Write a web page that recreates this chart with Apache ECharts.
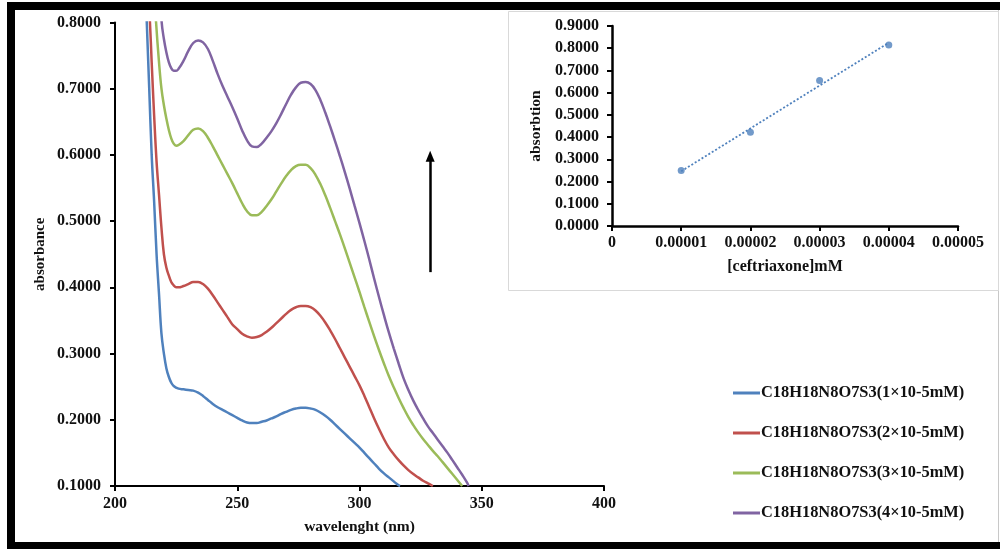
<!DOCTYPE html>
<html>
<head>
<meta charset="utf-8">
<script src="https://cdn.jsdelivr.net/npm/echarts@6/dist/echarts.min.js"></script>
<style>
  html, body { margin: 0; padding: 0; background: #fff; }
  #chart { width: 1000px; height: 549px; }
</style>
</head>
<body>
<div id="chart"></div>
<script>
// UV-Vis spectra of ceftriaxone at four concentrations: [wavelength nm, absorbance]
const seriesNames = [
  'C18H18N8O7S3(1×10-5mM)',
  'C18H18N8O7S3(2×10-5mM)',
  'C18H18N8O7S3(3×10-5mM)',
  'C18H18N8O7S3(4×10-5mM)'
];
const seriesColors = ['#4F81BD', '#C0504D', '#9BBB59', '#8064A2'];

const spectrum1 = [[212.5,0.85],[213,0.80],[214,0.70],[215,0.60],[216,0.53],[217,0.45],[218,0.39],[219,0.33],[220,0.30],[221,0.278],[222,0.265],[223,0.256],[224,0.251],[226,0.247],[228,0.246],[230,0.245],[232,0.244],[234,0.241],[236,0.236],[238,0.230],[240,0.224],[242,0.219],[244,0.215],[246,0.211],[248,0.207],[250,0.203],[252,0.199],[254,0.196],[256,0.195],[258,0.195],[260,0.197],[262,0.199],[264,0.202],[266,0.205],[268,0.209],[270,0.212],[272,0.215],[274,0.217],[276,0.218],[278,0.218],[280,0.217],[282,0.215],[284,0.211],[286,0.206],[288,0.200],[290,0.193],[292,0.186],[294,0.179],[296,0.172],[298,0.165],[300,0.158],[302,0.150],[304,0.142],[306,0.134],[308,0.126],[310,0.119],[312,0.113],[314,0.107],[316,0.101],[316.6,0.100]];

const spectrum2 = [[213.5,0.85],[214.3,0.80],[215,0.74],[216,0.66],[217,0.59],[218,0.54],[219,0.49],[220,0.45],[221,0.43],[222,0.418],[223,0.408],[224,0.403],[225,0.400],[226,0.400],[228,0.402],[230,0.405],[232,0.408],[234,0.408],[236,0.405],[238,0.398],[240,0.388],[242,0.377],[244,0.366],[246,0.355],[248,0.344],[250,0.337],[252,0.330],[254,0.326],[256,0.324],[258,0.325],[260,0.328],[262,0.333],[264,0.339],[266,0.346],[268,0.353],[270,0.360],[272,0.366],[274,0.370],[276,0.372],[278,0.372],[280,0.370],[282,0.365],[284,0.357],[286,0.347],[288,0.335],[290,0.322],[292,0.308],[294,0.294],[296,0.280],[298,0.266],[300,0.252],[302,0.236],[304,0.219],[306,0.202],[308,0.186],[310,0.171],[312,0.158],[314,0.148],[316,0.139],[318,0.131],[320,0.124],[322,0.118],[324,0.113],[326,0.108],[328,0.104],[330,0.100]];

const spectrum3 = [[216,0.85],[216.8,0.80],[218,0.74],[219,0.70],[220,0.675],[221,0.655],[222,0.638],[223,0.625],[224,0.617],[225,0.614],[226,0.615],[228,0.621],[230,0.630],[232,0.638],[234,0.640],[236,0.636],[238,0.626],[240,0.613],[242,0.599],[244,0.585],[246,0.571],[248,0.557],[250,0.542],[252,0.527],[254,0.515],[256,0.509],[258,0.509],[260,0.514],[262,0.523],[264,0.533],[266,0.545],[268,0.557],[270,0.568],[272,0.577],[274,0.583],[276,0.585],[278,0.585],[280,0.580],[282,0.570],[284,0.556],[286,0.539],[288,0.520],[290,0.500],[292,0.480],[294,0.459],[296,0.437],[298,0.415],[300,0.393],[302,0.370],[304,0.348],[306,0.326],[308,0.305],[310,0.285],[312,0.266],[314,0.249],[316,0.233],[318,0.218],[320,0.204],[322,0.192],[324,0.181],[326,0.171],[328,0.162],[330,0.153],[332,0.145],[334,0.136],[336,0.127],[338,0.118],[340,0.109],[342,0.100]];

const spectrum4 = [[218.5,0.85],[219.1,0.80],[220,0.775],[221,0.755],[222,0.740],[223,0.731],[224,0.727],[225,0.727],[226,0.730],[228,0.742],[230,0.757],[232,0.769],[234,0.773],[236,0.770],[238,0.760],[240,0.742],[242,0.722],[244,0.704],[246,0.688],[248,0.672],[250,0.655],[252,0.637],[254,0.622],[256,0.613],[258,0.612],[260,0.617],[262,0.626],[264,0.636],[266,0.648],[268,0.662],[270,0.677],[272,0.691],[274,0.702],[276,0.709],[278,0.710],[280,0.707],[282,0.698],[284,0.683],[286,0.664],[288,0.643],[290,0.621],[292,0.598],[294,0.574],[296,0.549],[298,0.523],[300,0.497],[302,0.470],[304,0.442],[306,0.413],[308,0.385],[310,0.358],[312,0.332],[314,0.308],[316,0.285],[318,0.263],[320,0.245],[322,0.229],[324,0.215],[326,0.202],[328,0.190],[330,0.180],[332,0.170],[334,0.160],[336,0.150],[338,0.139],[340,0.128],[342,0.117],[344,0.105],[344.6,0.100]];

const spectra = [spectrum1, spectrum2, spectrum3, spectrum4];

// Calibration (inset): concentration vs absorption at the main peak
const concentrations = [0.00001, 0.00002, 0.00003, 0.00004];
const absorptions = [0.250, 0.422, 0.655, 0.815];

// Least-squares linear trend through the calibration points
function linearFit(xs, ys) {
  const n = xs.length;
  const mx = xs.reduce((a, b) => a + b, 0) / n;
  const my = ys.reduce((a, b) => a + b, 0) / n;
  let sxy = 0, sxx = 0;
  for (let i = 0; i < n; i++) { sxy += (xs[i] - mx) * (ys[i] - my); sxx += (xs[i] - mx) ** 2; }
  const slope = sxy / sxx;
  return x => my + slope * (x - mx);
}
const trend = linearFit(concentrations, absorptions);
const xFirst = concentrations[0], xLast = concentrations[concentrations.length - 1];
const trendLine = [[xFirst, trend(xFirst)], [xLast, trend(xLast)]];

const FONT = '"Liberation Serif", "Times New Roman", serif';
const txt = { fontFamily: FONT, fontWeight: 'bold', fontSize: 16, color: '#111' };

const chart = echarts.init(document.getElementById('chart'), null, { renderer: 'canvas' });

const lineSeries = spectra.map((d, i) => ({
  name: seriesNames[i],
  type: 'line',
  xAxisIndex: 0,
  yAxisIndex: 0,
  data: d,
  showSymbol: false,
  smooth: 0.4,
  clip: true,
  lineStyle: { color: seriesColors[i], width: 2.5 },
  itemStyle: { color: seriesColors[i] },
  z: 3
}));

// Upward arrow marking increasing concentration
lineSeries[0].markLine = {
  silent: true,
  symbol: ['none', 'triangle'],
  symbolSize: [9, 11],
  label: { show: false },
  lineStyle: { color: '#000', width: 2.5, type: 'solid' },
  data: [[{ coord: [328.9, 0.423] }, { coord: [328.9, 0.598] }]]
};

chart.setOption({
  backgroundColor: '#fff',
  animation: false,
  graphic: [
    // outer frame
    { type: 'rect', z: -20, shape: { x: 7, y: 2, width: 993, height: 8 }, style: { fill: '#000' } },
    { type: 'rect', z: -20, shape: { x: 7, y: 2, width: 8, height: 547 }, style: { fill: '#000' } },
    { type: 'rect', z: -20, shape: { x: 7, y: 542, width: 993, height: 7 }, style: { fill: '#000' } },
    { type: 'rect', z: -20, shape: { x: 998, y: 10, width: 1, height: 532 }, style: { fill: '#c8c8c8' } },
    // inset panel
    { type: 'rect', z: -10, shape: { x: 508.5, y: 11.5, width: 490, height: 279 }, style: { fill: '#fff', stroke: '#d9d9d9', lineWidth: 1 } }
  ],
  legend: {
    data: seriesNames,
    orient: 'vertical',
    left: 728,
    top: 380,
    itemWidth: 27,
    itemHeight: 3,
    itemGap: 24,
    icon: 'rect',
    textStyle: Object.assign({}, txt, { fontSize: 16.4, lineHeight: 16, padding: [0, 0, 0, -4] }),
    selectedMode: false
  },
  grid: [
    { left: 115, right: 396, top: 22.5, bottom: 63 },
    { left: 612, right: 42, top: 26, bottom: 323 }
  ],
  xAxis: [
    {
      type: 'value', gridIndex: 0, min: 200, max: 400, interval: 50,
      name: 'wavelenght (nm)', nameLocation: 'middle', nameGap: 33,
      nameTextStyle: Object.assign({}, txt, { fontSize: 15.5 }),
      axisLine: { lineStyle: { color: '#000', width: 2 } },
      axisTick: { show: true, length: 5, lineStyle: { color: '#000', width: 2 } },
      axisLabel: Object.assign({}, txt, { margin: 10 }),
      splitLine: { show: false }
    },
    {
      type: 'value', gridIndex: 1, min: 0, max: 0.00005, interval: 0.00001,
      name: '[ceftriaxone]mM', nameLocation: 'middle', nameGap: 33,
      nameTextStyle: txt,
      axisLine: { lineStyle: { color: '#000', width: 2.5 } },
      axisTick: { show: true, length: 5, lineStyle: { color: '#000', width: 2 } },
      axisLabel: Object.assign({}, txt, {
        margin: 9,
        formatter: v => (v === 0 ? '0' : v.toFixed(5))
      }),
      splitLine: { show: false }
    }
  ],
  yAxis: [
    {
      type: 'value', gridIndex: 0, min: 0.1, max: 0.8, interval: 0.1,
      name: 'absorbance', nameLocation: 'middle', nameGap: 67, nameRotate: 90,
      nameTextStyle: Object.assign({}, txt, { fontSize: 15 }),
      axisLine: { show: true, lineStyle: { color: '#000', width: 2 } },
      axisTick: { show: true, length: 5, lineStyle: { color: '#000', width: 2 } },
      axisLabel: Object.assign({}, txt, { margin: 14, formatter: v => v.toFixed(4) }),
      splitLine: { show: false }
    },
    {
      type: 'value', gridIndex: 1, min: 0, max: 0.9, interval: 0.1,
      name: 'absorbtion', nameLocation: 'middle', nameGap: 68, nameRotate: 90,
      nameTextStyle: Object.assign({}, txt, { fontSize: 15.5 }),
      axisLine: { show: true, lineStyle: { color: '#000', width: 2.5 } },
      axisTick: { show: true, length: 5, lineStyle: { color: '#000', width: 2 } },
      axisLabel: Object.assign({}, txt, { margin: 13, formatter: v => v.toFixed(4) }),
      splitLine: { show: false }
    }
  ],
  series: lineSeries.concat([
    {
      name: 'trend',
      type: 'line',
      xAxisIndex: 1,
      yAxisIndex: 1,
      data: trendLine,
      showSymbol: false,
      lineStyle: { color: '#4F81BD', width: 1.8, type: [2, 2] },
      z: 2
    },
    {
      name: 'calibration',
      type: 'scatter',
      xAxisIndex: 1,
      yAxisIndex: 1,
      data: concentrations.map((c, i) => [c, absorptions[i]]),
      symbolSize: 7,
      itemStyle: { color: '#4F81BD' },
      z: 3
    }
  ])
});
</script>
</body>
</html>
